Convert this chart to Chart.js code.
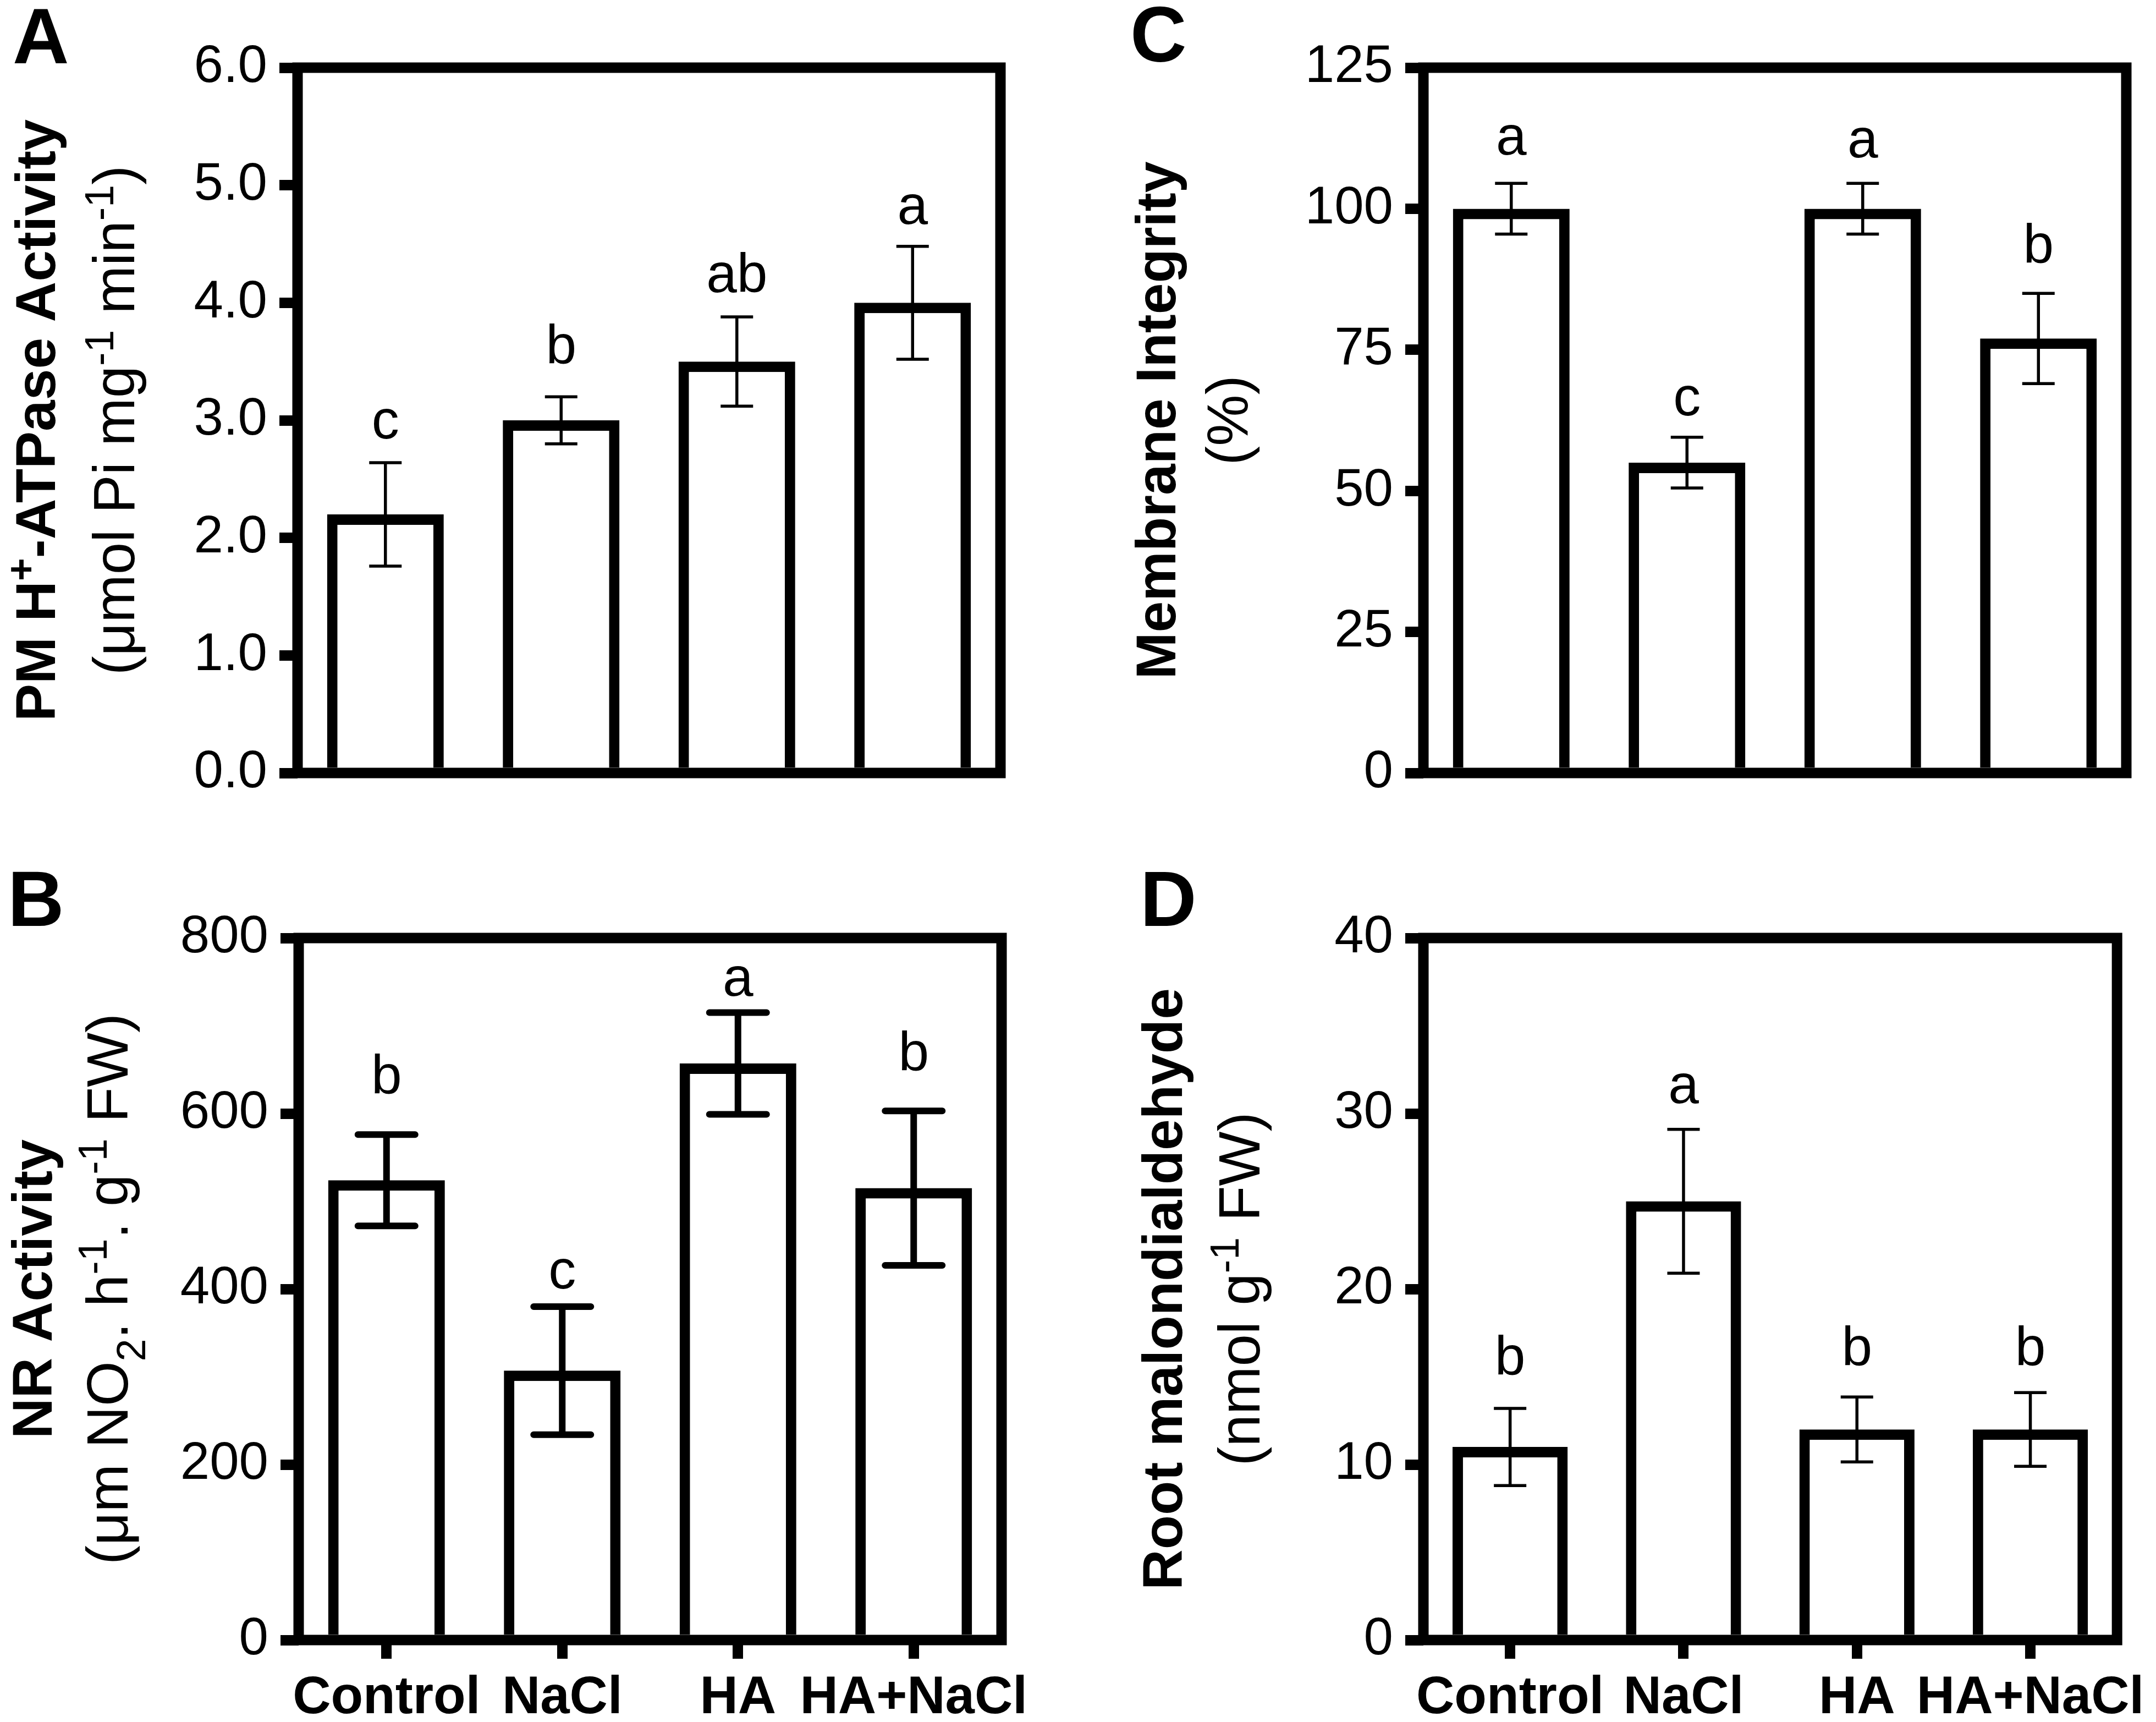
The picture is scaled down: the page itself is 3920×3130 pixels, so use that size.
<!DOCTYPE html>
<html>
<head>
<meta charset="utf-8">
<script src="https://cdn.jsdelivr.net/npm/chart.js@4.4.1/dist/chart.umd.min.js"></script>
<style>
html,body{margin:0;padding:0;background:#fff;}
#wrap{position:relative;width:3920px;height:3130px;background:#fff;overflow:hidden;}
.pane{position:absolute;width:1960px;height:1565px;}
canvas{display:block;}
</style>
</head>
<body>
<div id="wrap">
  <div class="pane" style="left:0;top:0"><canvas id="cA" width="1960" height="1565"></canvas></div>
  <div class="pane" style="left:0;top:1565px"><canvas id="cB" width="1960" height="1565"></canvas></div>
  <div class="pane" style="left:1960px;top:0"><canvas id="cC" width="1960" height="1565"></canvas></div>
  <div class="pane" style="left:1960px;top:1565px"><canvas id="cD" width="1960" height="1565"></canvas></div>
</div>
<script>
// ---------- DATA ----------
const categories = ['Control', 'NaCl', 'HA', 'HA+NaCl'];

const atpaseMean    = [2.2, 3.0, 3.5, 4.0];
const atpaseErr     = [0.44, 0.2, 0.38, 0.48];
const atpaseLetters = ['c', 'b', 'ab', 'a'];
const atpaseTicks   = ['0.0', '1.0', '2.0', '3.0', '4.0', '5.0', '6.0'];

const nrMean    = [524, 307, 657, 515];
const nrErr     = [52, 73, 58, 88];
const nrLetters = ['b', 'c', 'a', 'b'];
const nrTicks   = ['0', '200', '400', '600', '800'];

const memMean    = [100, 55, 100, 77];
const memErr     = [4.5, 4.5, 4.5, 8];
const memLetters = ['a', 'c', 'a', 'b'];
const memTicks   = ['0', '25', '50', '75', '100', '125'];

const mdaMean    = [11, 25, 12, 12];
const mdaErr     = [2.2, 4.1, 1.85, 2.1];
const mdaLetters = ['b', 'a', 'b', 'b'];
const mdaTicks   = ['0', '10', '20', '30', '40'];

const titleA = 'PM H^{+}-ATPase Activity';
const unitA  = '(μmol Pi mg^{-1} min^{-1})';
const titleB = 'NR Activity';
const unitB  = '(μm NO_{2}. h^{-1}. g^{-1} FW)';
const titleC = 'Membrane Integrity';
const unitC  = '(%)';
const titleD = 'Root malondialdehyde';
const unitD  = '(nmol g^{-1} FW)';

// ---------- STYLE / LAYOUT ----------
const FONT = '"Liberation Sans", Arial, Helvetica, sans-serif';
const LINE = 19;
const YAXIS_W = 300;
const XAXIS_H = 140;

const panels = [
  { id:'cA', tag:'A', title:titleA, unit:unitA, mean:atpaseMean, err:atpaseErr, letters:atpaseLetters, ticks:atpaseTicks,
    max:6, step:1, showX:false, area:{left:541, right:1819, top:123, bottom:1405},
    titleX:100, unitX:244, tagX:23, tagY:115, capW:59, errW:5.5, round:false, gaps:[44,60,45,41] },
  { id:'cB', tag:'B', title:titleB, unit:unitB, mean:nrMean, err:nrErr, letters:nrLetters, ticks:nrTicks,
    max:800, step:200, showX:true, area:{left:543, right:1821, top:140, bottom:1416},
    titleX:94, unitX:232, tagX:14, tagY:118, capW:116, errW:12, round:true, gaps:[74,33,31,73] },
  { id:'cC', tag:'C', title:titleC, unit:unitC, mean:memMean, err:memErr, letters:memLetters, ticks:memTicks,
    max:125, step:25, showX:false, area:{left:628, right:1906, top:123, bottom:1405},
    titleX:177, unitX:308, tagX:95, tagY:112, capW:59, errW:5.5, round:false, gaps:[52,40,47,55] },
  { id:'cD', tag:'D', title:titleD, unit:unitD, mean:mdaMean, err:mdaErr, letters:mdaLetters, ticks:mdaTicks,
    max:40, step:10, showX:true, area:{left:628, right:1906, top:140, bottom:1416},
    titleX:189, unitX:330, tagX:113, tagY:118, capW:59, errW:5.5, round:false, gaps:[61,48,57,49] }
];

function parseRich(s) {
  const out = []; const re = /(\^\{[^}]*\}|_\{[^}]*\})/g; let last = 0, m;
  while ((m = re.exec(s))) {
    if (m.index > last) out.push({ t: s.slice(last, m.index), k: '' });
    out.push({ t: m[0].slice(2, -1), k: m[0][0] === '^' ? 'sup' : 'sub' });
    last = re.lastIndex;
  }
  if (last < s.length) out.push({ t: s.slice(last), k: '' });
  return out;
}

function drawRichVertical(ctx, s, baseX, centerY, size, weight) {
  const segs = parseRich(s);
  const f = sz => `${weight} ${sz}px ${FONT}`;
  const ss = size * 0.7;
  let total = 0;
  segs.forEach(g => { ctx.font = f(g.k ? ss : size); g.w = ctx.measureText(g.t).width; total += g.w; });
  ctx.save();
  ctx.translate(baseX, centerY);
  ctx.rotate(-Math.PI / 2);
  ctx.fillStyle = '#000';
  ctx.textAlign = 'left';
  ctx.textBaseline = 'alphabetic';
  let x = -total / 2;
  segs.forEach(g => {
    ctx.font = f(g.k ? ss : size);
    const dy = g.k === 'sup' ? -size * 0.36 : (g.k === 'sub' ? size * 0.3 : 0);
    ctx.fillText(g.t, x, dy);
    x += g.w;
  });
  ctx.restore();
}

function makeDecor(p) {
  return {
    id: 'decor_' + p.id,
    afterDatasetsDraw(chart) {
      const ctx = chart.ctx;
      const a = chart.chartArea;
      const ys = chart.scales.y;
      const meta = chart.getDatasetMeta(0);
      ctx.save();
      // frame
      ctx.strokeStyle = '#000';
      ctx.lineWidth = LINE;
      ctx.lineJoin = 'miter';
      ctx.strokeRect(a.left, a.top, a.right - a.left, a.bottom - a.top);
      // error bars
      ctx.lineWidth = p.errW;
      p.mean.forEach((v, i) => {
        const x = meta.data[i].x;
        const yT = ys.getPixelForValue(v + p.err[i]);
        const yB = ys.getPixelForValue(v - p.err[i]);
        ctx.lineCap = 'butt';
        ctx.beginPath();
        ctx.moveTo(x, yT); ctx.lineTo(x, yB);
        ctx.stroke();
        ctx.lineCap = p.round ? 'round' : 'butt';
        const hw = p.round ? p.capW / 2 - p.errW / 2 : p.capW / 2;
        ctx.beginPath();
        ctx.moveTo(x - hw, yT); ctx.lineTo(x + hw, yT);
        ctx.moveTo(x - hw, yB); ctx.lineTo(x + hw, yB);
        ctx.stroke();
        // significance letters
        ctx.fillStyle = '#000';
        ctx.font = `400 100px ${FONT}`;
        ctx.textAlign = 'center';
        ctx.textBaseline = 'alphabetic';
        ctx.fillText(p.letters[i], x, yT - p.gaps[i]);
      });
      ctx.restore();
    },
    afterDraw(chart) {
      const ctx = chart.ctx;
      const a = chart.chartArea;
      const cy = (a.top + a.bottom) / 2;
      drawRichVertical(ctx, p.title, p.titleX, cy, 102, 700);
      drawRichVertical(ctx, p.unit, p.unitX, cy, 105, 400);
      ctx.save();
      ctx.fillStyle = '#000';
      ctx.font = `700 142px ${FONT}`;
      ctx.textAlign = 'left';
      ctx.textBaseline = 'alphabetic';
      ctx.fillText(p.tag, p.tagX, p.tagY);
      ctx.restore();
    }
  };
}

panels.forEach(p => {
  const canvas = document.getElementById(p.id);
  const W = canvas.width, H = canvas.height;
  const padBottom = p.showX ? H - p.area.bottom - XAXIS_H : H - p.area.bottom;
  const xScale = {
    display: p.showX,
    offset: true,
    grid: { display: true, drawOnChartArea: false, drawTicks: true, offset: false,
            tickLength: 34, tickWidth: LINE, tickColor: '#000', color: '#000', lineWidth: LINE },
    border: { display: false },
    ticks: { color: '#000', padding: 15, maxRotation: 0, autoSkip: false,
             font: { family: FONT, size: 96, weight: 'bold' } }
  };
  if (p.showX) xScale.afterFit = s => { s.height = XAXIS_H; };
  new Chart(canvas, {
    type: 'bar',
    data: {
      labels: categories,
      datasets: [{
        data: p.mean,
        backgroundColor: '#ffffff',
        borderColor: '#000000',
        borderWidth: LINE,
        barPercentage: 1.0,
        categoryPercentage: 0.664
      }]
    },
    options: {
      responsive: false,
      devicePixelRatio: 1,
      animation: false,
      events: [],
      layout: { padding: { left: p.area.left - YAXIS_W, right: W - p.area.right, top: p.area.top, bottom: padBottom } },
      plugins: { legend: { display: false }, tooltip: { enabled: false }, title: { display: false } },
      scales: {
        x: xScale,
        y: {
          min: 0, max: p.max,
          grid: { display: true, drawOnChartArea: false, drawTicks: true,
                  tickLength: 33, tickWidth: LINE, tickColor: '#000', color: '#000', lineWidth: LINE },
          border: { display: false },
          ticks: { stepSize: p.step, color: '#000', padding: 22,
                   font: { family: FONT, size: 96, weight: 'normal' },
                   callback: (v, i) => p.ticks[i] },
          afterFit: s => { s.width = YAXIS_W; }
        }
      }
    },
    plugins: [makeDecor(p)]
  });
});
</script>
</body>
</html>
